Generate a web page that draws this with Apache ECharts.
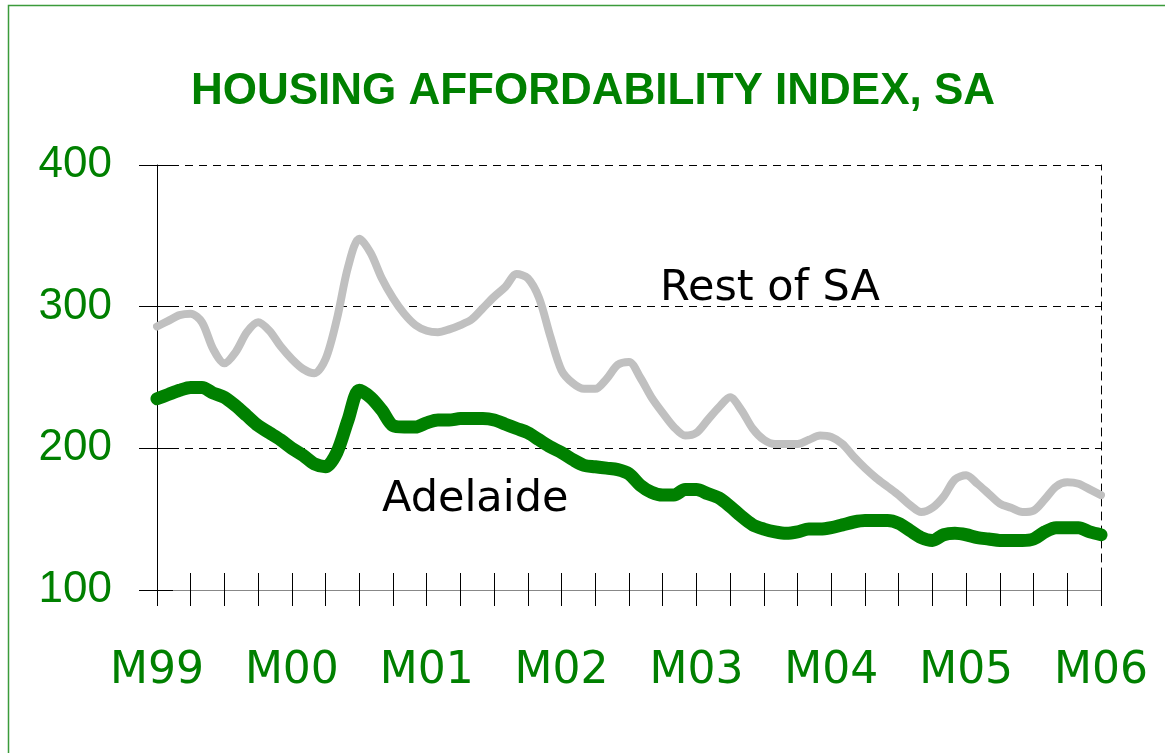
<!DOCTYPE html>
<html>
<head>
<meta charset="utf-8">
<style>
  html, body { margin: 0; padding: 0; background: #fff; }
  #chart { width: 1165px; height: 753px; }
</style>
<script src="https://cdn.jsdelivr.net/npm/echarts@6/dist/echarts.min.js"></script>
</head>
<body>
<div id="chart"></div>
<script>
// monthly, March 1999 .. March 2006
const yearLabels = ['M99', 'M00', 'M01', 'M02', 'M03', 'M04', 'M05', 'M06']
const months = []
for (let y = 0; y < 7; y++) {
  for (let m = 0; m < 12; m++) months.push(m === 0 ? yearLabels[y] : yearLabels[y] + '+' + m)
}
months.push(yearLabels[7])

const restOfSA = [
  286, 290, 294, 295, 289, 270, 260, 268, 282, 289, 283, 272,
  263, 256, 253, 263, 291, 328, 348, 338, 320, 306, 295, 287,
  283, 282, 284, 287, 291, 299, 307, 314, 323, 320, 306, 279,
  255, 246, 242, 242, 249, 259, 261, 250, 236, 225, 215, 209,
  211, 220, 229, 236, 227, 214, 206, 203, 203, 203, 206, 209,
  208, 203, 194, 186, 179, 173, 167, 160, 155, 158, 166, 178,
  181, 175, 168, 161, 158, 155, 156, 164, 173, 176, 175, 171,
  167
]

const adelaide = [
  235, 238, 241, 243, 243, 239, 236, 230, 223, 216, 211, 206,
  200, 195, 189, 187, 197, 220, 241, 236, 227, 216, 215, 215,
  218, 220, 220, 221, 221, 221, 220, 217, 214, 211, 206, 201,
  197, 192, 188, 187, 186, 185, 182, 174, 169, 167, 167, 171,
  171, 168, 165, 159, 152, 146, 143, 141, 140, 141, 143, 143,
  144, 146, 148, 149, 149, 149, 147, 142, 137, 135, 139, 140,
  139, 137, 136, 135, 135, 135, 136, 141, 144, 144, 144, 141,
  139
]

const green = '#008000'

const chart = echarts.init(document.getElementById('chart'))

const option = {
  animation: false,
  backgroundColor: '#fff',
  grid: { left: 157, right: 64, top: 165, bottom: 163 },
  graphic: [
    {
      type: 'rect',
      shape: { x: 8.5, y: 5.5, width: 1200, height: 800 },
      style: { fill: 'none', stroke: '#3b9b3b', lineWidth: 1.5 },
      silent: true
    },
    {
      type: 'text',
      x: 593, y: 92,
      style: {
        text: 'HOUSING AFFORDABILITY INDEX, SA',
        fill: green,
        font: 'bold 44px "Liberation Sans", Arial, sans-serif',
        textAlign: 'center',
        textVerticalAlign: 'middle'
      }
    },
    {
      type: 'text',
      x: 660, y: 289,
      style: {
        text: 'Rest of SA',
        fill: '#000',
        font: '43px "DejaVu Sans", sans-serif',
        textVerticalAlign: 'middle'
      }
    },
    {
      type: 'text',
      x: 382, y: 500,
      style: {
        text: 'Adelaide',
        fill: '#000',
        font: '43px "DejaVu Sans", sans-serif',
        textVerticalAlign: 'middle'
      }
    }
  ],
  xAxis: [
    {
      type: 'category',
      data: months,
      boundaryGap: false,
      position: 'bottom',
      axisLine: { lineStyle: { color: '#888', width: 1 } },
      axisTick: { interval: 2, length: 16, lineStyle: { color: '#000' } },
      axisLabel: {
        interval: 11,
        margin: 60,
        color: green,
        fontSize: 44,
        fontFamily: '"DejaVu Sans", sans-serif',
        formatter: v => v.indexOf('+') >= 0 ? '' : v
      },
      splitLine: { show: false }
    },
    {
      type: 'category',
      data: months,
      boundaryGap: false,
      position: 'bottom',
      axisLine: { show: false },
      axisTick: { inside: true, interval: 2, length: 17, lineStyle: { color: '#000' } },
      axisLabel: { show: false },
      splitLine: { show: false }
    }
  ],
  yAxis: [
    {
      type: 'value',
      min: 100,
      max: 400,
      interval: 100,
      position: 'left',
      axisLine: { show: true, lineStyle: { color: '#000', width: 1 } },
      axisTick: { show: true, length: 18, lineStyle: { color: '#000' } },
      axisLabel: {
        margin: 45,
        color: green,
        fontSize: 44,
        fontFamily: '"Liberation Sans", Arial, sans-serif'
      },
      splitLine: { show: true, lineStyle: { color: '#000', width: 1, type: [8, 6] } }
    },
    {
      type: 'value',
      min: 100,
      max: 400,
      interval: 100,
      position: 'right',
      axisLine: { show: true, lineStyle: { color: '#000', width: 1, type: [8, 6] } },
      axisTick: { show: false },
      axisLabel: { show: false },
      splitLine: { show: false }
    },
    {
      type: 'value',
      min: 100,
      max: 400,
      interval: 100,
      position: 'left',
      axisLine: { show: false },
      axisTick: { show: true, inside: true, length: 16, lineStyle: { color: '#000' } },
      axisLabel: { show: false },
      splitLine: { show: false }
    }
  ],
  series: [
    {
      name: 'Rest of SA',
      type: 'line',
      data: restOfSA,
      showSymbol: false,
      symbol: 'none',
      smooth: 0.3,
      lineStyle: { color: '#c0c0c0', width: 8, cap: 'round', join: 'round' },
      z: 3
    },
    {
      name: 'Adelaide',
      type: 'line',
      data: adelaide,
      showSymbol: false,
      symbol: 'none',
      smooth: 0.3,
      lineStyle: { color: green, width: 13, cap: 'round', join: 'round' },
      z: 4
    }
  ]
}

chart.setOption(option)
</script>
</body>
</html>
